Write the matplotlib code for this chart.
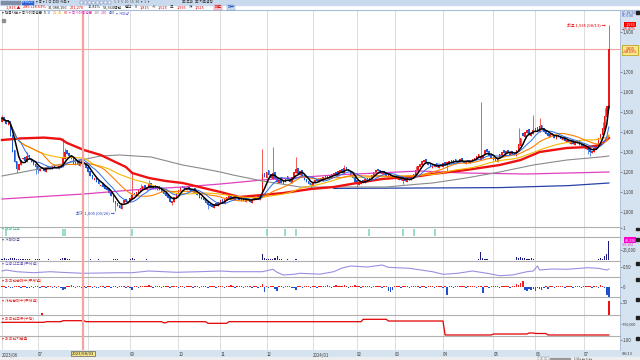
import matplotlib
matplotlib.use('Agg')
import matplotlib.pyplot as plt
from matplotlib.patches import Rectangle
import numpy as np
import pandas as pd

plt.rcParams['font.family'] = ['Noto Sans CJK KR', 'DejaVu Sans']
plt.rcParams['axes.unicode_minus'] = False

W, H = 640, 360

###############################################  일봉 (시가/종가)
close = [1470, 1455, 1440, 1460, 1380, 1300, 1250, 1215, 1240, 1260,
         1270, 1255, 1280, 1265, 1250, 1235, 1225, 1210, 1215, 1220,
         1205, 1225, 1220, 1215, 1230, 1225, 1220, 1230, 1225, 1270,
         1300, 1290, 1280, 1265, 1240, 1250, 1235, 1255, 1245, 1240,
         1220, 1200, 1180, 1165, 1170, 1150, 1140, 1135, 1125, 1115,
         1110, 1095, 1080, 1050, 1040, 1030, 1020, 1045, 1060, 1050,
         1055, 1070, 1085, 1090, 1100, 1110, 1120, 1130, 1115, 1125,
         1140, 1120, 1130, 1115, 1125, 1110, 1100, 1090, 1080, 1070,
         1050, 1055, 1075, 1095, 1110, 1125, 1120, 1115, 1120, 1110,
         1105, 1115, 1095, 1085, 1070, 1065, 1060, 1045, 1035, 1030,
         1025, 1040, 1035, 1050, 1060, 1045, 1065, 1075, 1080, 1070,
         1065, 1075, 1070, 1060, 1065, 1055, 1070, 1060, 1050, 1065,
         1070, 1075, 1065, 1080, 1190, 1175, 1200, 1185, 1170, 1195,
         1165, 1150, 1160, 1145, 1155, 1170, 1165, 1150, 1175, 1200,
         1215, 1190, 1205, 1180, 1160, 1150, 1140, 1135, 1150, 1160,
         1155, 1165, 1160, 1175, 1170, 1180, 1175, 1190, 1195, 1185,
         1205, 1210, 1200, 1220, 1215, 1205, 1180, 1170, 1150, 1140,
         1145, 1155, 1150, 1165, 1160, 1170, 1185, 1200, 1210, 1205,
         1195, 1200, 1190, 1180, 1185, 1175, 1170, 1180, 1165, 1175,
         1160, 1165, 1155, 1170, 1160, 1175, 1190, 1210, 1230, 1240,
         1255, 1260, 1245, 1235, 1225, 1230, 1240, 1225, 1235, 1230,
         1245, 1240, 1250, 1255, 1245, 1260, 1250, 1255, 1265, 1250,
         1245, 1255, 1250, 1260, 1265, 1270, 1280, 1290, 1275, 1285,
         1310, 1300, 1280, 1270, 1260, 1255, 1270, 1290, 1300, 1295,
         1305, 1295, 1300, 1290, 1285, 1310, 1340, 1370, 1380, 1400,
         1410, 1385, 1395, 1410, 1420, 1405, 1430, 1415, 1400, 1390,
         1380, 1390, 1385, 1370, 1380, 1375, 1365, 1370, 1355, 1360,
         1345, 1355, 1340, 1350, 1345, 1335, 1330, 1320, 1325, 1310,
         1300, 1305, 1320, 1330, 1370, 1390, 1420, 1480, 1530, 1815]
open_ = [1450, 1475, 1460, 1435, 1455, 1385, 1310, 1255, 1210, 1235,
         1265, 1275, 1250, 1285, 1265, 1255, 1240, 1230, 1205, 1225,
         1220, 1200, 1230, 1220, 1215, 1235, 1225, 1215, 1235, 1225,
         1265, 1310, 1295, 1285, 1270, 1235, 1255, 1230, 1260, 1250,
         1245, 1225, 1205, 1185, 1160, 1175, 1155, 1130, 1140, 1130,
         1120, 1115, 1100, 1085, 1055, 1045, 1035, 1015, 1045, 1065,
         1045, 1050, 1065, 1095, 1085, 1095, 1105, 1115, 1135, 1110,
         1120, 1145, 1115, 1135, 1110, 1130, 1115, 1105, 1095, 1085,
         1075, 1045, 1050, 1070, 1090, 1105, 1130, 1125, 1110, 1125,
         1115, 1100, 1120, 1100, 1090, 1075, 1070, 1065, 1050, 1040,
         1035, 1020, 1045, 1030, 1045, 1065, 1040, 1060, 1070, 1085,
         1075, 1060, 1080, 1075, 1055, 1070, 1050, 1075, 1065, 1045,
         1060, 1065, 1080, 1060, 1075, 1195, 1170, 1210, 1190, 1165,
         1200, 1170, 1145, 1165, 1140, 1150, 1180, 1170, 1145, 1170,
         1195, 1220, 1185, 1210, 1185, 1165, 1155, 1145, 1130, 1145,
         1165, 1150, 1170, 1155, 1180, 1165, 1185, 1170, 1185, 1200,
         1180, 1200, 1215, 1195, 1225, 1215, 1205, 1185, 1175, 1160,
         1135, 1140, 1160, 1145, 1170, 1155, 1165, 1180, 1195, 1215,
         1210, 1190, 1205, 1195, 1175, 1190, 1180, 1165, 1185, 1160,
         1180, 1155, 1170, 1150, 1175, 1160, 1170, 1185, 1205, 1225,
         1235, 1250, 1265, 1250, 1240, 1220, 1225, 1245, 1220, 1240,
         1225, 1250, 1235, 1245, 1260, 1240, 1265, 1245, 1250, 1270,
         1255, 1240, 1260, 1245, 1255, 1260, 1265, 1275, 1260, 1270,
         1285, 1315, 1305, 1285, 1275, 1265, 1250, 1270, 1285, 1310,
         1290, 1310, 1285, 1305, 1295, 1280, 1305, 1330, 1395, 1375,
         1395, 1415, 1380, 1390, 1405, 1425, 1400, 1435, 1420, 1405,
         1395, 1375, 1395, 1385, 1365, 1385, 1380, 1360, 1375, 1350,
         1360, 1340, 1360, 1335, 1355, 1345, 1340, 1335, 1315, 1330,
         1315, 1295, 1300, 1315, 1325, 1365, 1385, 1410, 1475, 1525]
# 꼬리 (고가/저가가 몸통 밖으로 나온 봉만)
hi_ext = {0: 1485, 4: 1420, 12: 1300, 29: 1370, 30: 1320, 62: 1200, 66: 1140,
          70: 1160, 124: 1315, 129: 1325, 140: 1275, 163: 1235, 197: 1230,
          228: 1550, 246: 1420, 253: 1485, 256: 1470, 286: 1450, 287: 1520, 289: 1935}
lo_ext = {7: 1195, 16: 1190, 17: 1195, 54: 1005, 81: 1035, 98: 1015, 147: 1115,
          169: 1120, 191: 1140, 212: 1200, 279: 1290, 280: 1280, 289: 1520}

###############################################  장기 이평
red_idx = [0, 9, 20, 28, 31, 39, 47, 52, 59, 62, 70, 78, 86, 94, 104, 113, 124, 134,
           147, 158, 169, 181, 199, 205, 221, 237, 247, 256, 269, 279, 285, 289]
red_val = [1360, 1368, 1372, 1365, 1345, 1310, 1285, 1260, 1225, 1195, 1170, 1155, 1145,
           1125, 1100, 1075, 1085, 1095, 1115, 1125, 1145, 1165, 1180, 1190, 1210, 1235,
           1260, 1300, 1320, 1325, 1335, 1370]
gray_idx = [0, 15, 31, 47, 56, 71, 86, 94, 104, 110, 124, 136, 142, 166, 183, 199, 205,
            221, 237, 253, 269, 285, 289]
gray_val = [1180, 1210, 1245, 1280, 1285, 1275, 1235, 1220, 1200, 1185, 1155, 1135, 1125,
            1125, 1125, 1140, 1145, 1170, 1200, 1235, 1260, 1275, 1280]
mag_idx = [0, 39, 62, 86, 104, 124, 158, 199, 220, 250, 289]
mag_val = [1065, 1090, 1110, 1125, 1140, 1160, 1185, 1205, 1195, 1190, 1200]
navy_idx = [158, 199, 237, 270, 289]
navy_val = [1118, 1120, 1122, 1132, 1145]

month_idx = [0, 17, 41, 61, 84, 104, 126, 148, 169, 187, 210, 234, 254, 277]
month_lbl = ['2023/06', '07', '08', '09', '10', '11', '12', '2024/01',
             '02', '03', '04', '05', '06', '07']
cross_idx = 38.6
cross_lbl = '2023/08/03'
last_price = 1815
price_ticks = [1000, 1100, 1200, 1300, 1400, 1500, 1600, 1700, 1900]

###############################################  보조지표
signal_idx = [2, 29, 30, 62, 126, 135, 140, 175, 191, 196, 206]
volume = [3, 4, 3, 2, 5, 6, 4, 3, 2, 2, 2, 2, 2, 2, 1, 1, 2, 2, 2, 1,
          1, 1, 2, 1, 1, 1, 1, 1, 2, 5, 4, 3, 2, 1, 1, 1, 1, 1, 1, 1,
          1, 1, 2, 1, 1, 1, 2, 1, 1, 1, 1, 1, 1, 2, 2, 2, 1, 1, 1, 1,
          1, 2, 4, 2, 1, 1, 1, 1, 1, 2, 1, 1, 1, 1, 1, 1, 1, 1, 1, 1,
          1, 1, 1, 1, 1, 1, 1, 1, 1, 1, 1, 1, 1, 1, 1, 1, 1, 1, 1, 1,
          1, 1, 1, 1, 1, 1, 1, 1, 1, 1, 1, 1, 1, 1, 1, 1, 1, 1, 1, 1,
          1, 1, 1, 1, 15, 6, 3, 2, 2, 3, 4, 10, 2, 2, 1, 1, 2, 1, 1, 1,
          2, 1, 1, 1, 1, 1, 1, 1, 1, 1, 1, 1, 1, 1, 1, 1, 1, 1, 1, 1,
          1, 1, 1, 1, 1, 1, 1, 1, 1, 1, 1, 1, 1, 1, 1, 1, 1, 1, 1, 1,
          1, 1, 1, 1, 1, 1, 1, 1, 1, 1, 1, 1, 1, 1, 1, 1, 1, 1, 1, 1,
          1, 1, 1, 1, 1, 1, 1, 1, 1, 1, 1, 1, 1, 1, 1, 1, 1, 1, 1, 1,
          1, 1, 1, 1, 1, 1, 1, 2, 20, 4, 2, 2, 1, 1, 1, 1, 1, 1, 1, 1,
          1, 1, 1, 1, 1, 8, 5, 7, 4, 6, 3, 2, 4, 2, 1, 1, 1, 1, 1, 1,
          1, 1, 1, 1, 1, 1, 1, 1, 1, 1, 1, 1, 1, 1, 1, 1, 1, 1, 1, 1,
          1, 1, 1, 1, 2, 4, 3, 10, 15, 48]
credit_idx = [0, 2, 7, 15, 23, 28, 39, 55, 62, 70, 83, 94, 104, 110, 124, 129, 131, 134,
              139, 142, 150, 151, 158, 162, 166, 174, 181, 184, 194, 205, 210, 217, 224,
              231, 237, 243, 250, 253, 255, 256, 262, 269, 279, 284, 288, 289]
credit_val = [0.30, 0.35, 0.265, 0.215, 0.265, 0.235, 0.185, 0.215, 0.215, 0.30, 0.235,
              0.265, 0.30, 0.265, 0.265, 0.385, 0.235, 0.10, 0.135, 0.185, 0.15, 0.135,
              0.265, 0.45, 0.55, 0.50, 0.60, 0.485, 0.435, 0.265, 0.135, 0.185, 0.30,
              0.185, 0.065, 0.10, 0.265, 0.30, 0.55, 0.35, 0.40, 0.385, 0.465, 0.435,
              0.35, 0.40]
frgn_net = [1, 1, -1, 1, -1, -1, 1, 1, 1, -1, 1, 1, -1, -1, 1, -1, 1, 1, -1, 1,
            1, -1, 1, 1, -1, 1, -1, 1, -1, -3, -2, 1, 1, 2, 1, -1, 1, 1, -1, 1,
            -1, 1, 1, -1, 1, -1, -1, 1, 1, -1, 1, 1, -1, 1, 1, -1, 1, 1, 1, -1,
            1, -1, -3, 1, 1, -1, 1, 1, 1, 1, 2, 1, -1, 1, 1, 1, -1, 1, 1, 1,
            -1, 1, 1, 1, -1, 1, 1, -1, 1, 1, 1, -1, 1, 1, -1, 1, 1, 1, -1, 1,
            1, 1, -1, 1, 1, 1, -1, 1, 1, 2, 1, -1, 1, 1, 1, -1, 1, 1, 1, -1,
            1, 1, -1, 1, 3, -5, 1, -1, 1, 1, -2, -4, 1, 1, -1, 1, 1, 1, -1, -1,
            -3, 1, 1, -1, 1, 1, 1, -1, 1, 1, -1, 1, 1, 1, 1, 2, 1, -1, 1, 2,
            1, 1, 1, 2, 1, -1, 1, 1, 2, 1, 1, -1, 1, 1, 1, 1, -1, 1, 1, 1,
            1, -1, 1, 1, -4, -5, -3, 1, 1, 1, -1, 1, 1, 1, -1, 1, 1, 1, 1, -1,
            1, 1, -1, 1, 1, 1, -1, 1, 1, 1, -1, 1, -8, 1, 1, -1, 1, 1, 1, 1,
            1, -1, 1, 1, 1, 1, -1, 1, 1, -6, 1, 1, -1, 1, 1, 1, 1, -1, 1, 1,
            1, 1, -1, 1, 1, 3, 2, 4, 6, -3, -4, -2, -3, -2, -4, -1, -2, -3, -1, 1,
            -2, 1, 1, -1, 1, 1, 1, 1, -1, 1, 1, 1, -1, 1, 1, 1, -1, 1, 1, 1,
            1, -1, 1, 1, -1, 2, 1, -1, -8, -10]
indiv_idx = [19, 289]
indiv_val = [8, 56]
hold_runs = [(21, -630000), (8, -570000), (11, -470000), (37, -570000), (2, -680000),
             (19, -570000), (10, -730000), (64, -570000), (12, -330000), (27, -500000),
             (23, -1900000), (17, -1800000), (3, -1700000), (6, -1750000), (30, -1900000)]

###############################################
fig = plt.figure(figsize=(6.4, 3.6), dpi=100)
fig.patch.set_facecolor('white')
rend = fig.canvas.get_renderer()


def box(x0, y0, x1, y1):
    return [x0 / W, 1 - y1 / H, (x1 - x0) / W, (y1 - y0) / H]


def ftext(x, y, s, **kw):
    kw.setdefault('fontsize', 3.2)
    kw.setdefault('va', 'center')
    return fig.text(x / W, 1 - y / H, s, **kw)


def frow(x, y, pieces, fs, gap=1.6):
    # 글자 조각을 겹치지 않게 이어서 배치
    for s, cc in pieces:
        t = ftext(x, y, s, color=cc, fontsize=fs)
        x = t.get_window_extent(rend).x1 + gap
    return x


def frect(x0, y0, x1, y1, **kw):
    kw.setdefault('zorder', -1)
    fig.patches.append(Rectangle((x0 / W, 1 - y1 / H), (x1 - x0) / W, (y1 - y0) / H,
                                 transform=fig.transFigure, **kw))


def panel(y0, y1, label=None, lcolor='#333333'):
    ax = fig.add_axes(box(0, y0, 620, y1))
    ax.set_xlim(-0.95, 294.3)
    ax.set_xticks(month_idx)
    ax.grid(axis='x', color='#dcdcdc', lw=0.7)
    ax.set_axisbelow(True)
    ax.tick_params(axis='x', length=0, labelbottom=False)
    ax.yaxis.tick_right()
    ax.tick_params(axis='y', labelsize=3.2, length=1.2, width=0.4, pad=0.8, colors='#404040')
    ax.spines['left'].set_visible(False)
    ax.spines['bottom'].set_visible(False)
    ax.spines['top'].set_color('#b0b0b0')
    ax.spines['top'].set_linewidth(0.8)
    ax.spines['right'].set_color('#a9bcd6')
    ax.spines['right'].set_linewidth(0.6)
    ax.axvline(cross_idx, color='#f4a3a3', lw=1.6, zorder=6)
    if label:
        ftext(1.5, y0 + 2.8, label, color=lcolor, fontsize=2.9, zorder=7)
    frect(636, y0 + 1, 639, y0 + 3.5, color='#202020', zorder=2)
    return ax


# 배경 띠
frect(0, 0, 640, 4.6, color='#c9daef')
frect(620, 9.5, 640, 357, color='#d5e2f0')
frect(0, 350, 640, 357, color='#d5e2f0')
frect(0, 357, 640, 360, color='#eeeeee')
fig.lines.append(plt.Line2D([0, 1], [1 - 9.6 / H] * 2, transform=fig.transFigure,
                            color='#a9bcd6', lw=0.6))

# 툴바
for xx in [1, 5, 9, 13, 17]:
    frect(xx, 0.8, xx + 3, 3.8, color='#7d8da5', zorder=2)
frect(22, 0.6, 33, 4.0, color='#2b62d9', zorder=2)
ftext(27.5, 2.3, '078020', color='white', ha='center', fontsize=2.6)
frow(36, 2.3, [('▾ 중 ▾ 1 ⊙ 최대 차트 ▾', '#333333')], 2.6)
for xx in [80, 84, 88, 92, 96, 100, 104, 108]:
    frect(xx, 0.8, xx + 3, 3.8, facecolor='#eef3fa', edgecolor='#5a78b0', lw=0.3, zorder=2)
frow(114, 2.3, [('1  3  5  10  15  30  ▾  1  ▾', '#555555')], 2.6)
frow(182, 2.3, [('▣ 조회', '#333333'), ('▣ 지표설정', '#333333')], 2.6)

top_row = [('1,815 ▲', '#e00000'), ('285 +18.63%', '#e00000'),
           ('32,088,156', '#222222'), ('271,270', '#e00000'),
           ('16.81%', '#222222'), ('53,364백만', '#222222'),
           ('합산', '#222222'), ('0', '#222222'),
           ('1,815', '#e00000'), ('시', '#222222'), ('1,525', '#e00000'),
           ('고', '#222222'), ('1,935', '#e00000'), ('저', '#222222'),
           ('1,525', '#e00000')]
frow(6, 7.2, top_row, 2.8, gap=2.6)
ftext(218, 7.2, '매도', color='#cc0000', ha='center', fontsize=2.8,
      bbox=dict(boxstyle='square,pad=0.15', fc='#f7c6cf', ec='#d08090', lw=0.3))
ftext(231, 7.2, '매수', color='#0040b0', ha='center', fontsize=2.8,
      bbox=dict(boxstyle='square,pad=0.15', fc='#cfe0f5', ec='#8099c0', lw=0.3))

###############################################  가격 차트
ax = panel(10, 227)
ax.set_ylim(925, 2010)
ax.set_yticks(price_ticks)
ax.set_yticklabels(['{:,}'.format(v) for v in price_ticks])
ax.spines['top'].set_color('#a9bcd6')

n = len(close)
idx = np.arange(n)
o = np.array(open_, dtype=float)
c = np.array(close, dtype=float)
hi = np.maximum(o, c)
lo = np.minimum(o, c)
for k, v in hi_ext.items():
    hi[k] = v
for k, v in lo_ext.items():
    lo[k] = v
col = np.where(c >= o, '#f01818', '#1f5ad8')
ax.vlines(idx, lo, hi, colors=col, lw=0.5, zorder=2)
ax.bar(idx, np.maximum(np.abs(c - o), 4), bottom=np.minimum(o, c), width=0.75,
       color=col, lw=0, zorder=2)

s = pd.Series(c)
ax.plot(navy_idx, navy_val, color='#2642a8', lw=0.9, zorder=3)
ax.plot(mag_idx, mag_val, color='#e040c0', lw=0.9, zorder=3)
ax.plot(gray_idx, gray_val, color='#8a8a8a', lw=0.8, zorder=3)
ax.plot(red_idx, red_val, color='#ee1111', lw=1.7, zorder=3)
ax.plot(idx, s.rolling(40, min_periods=1).mean(), color='#f5b800', lw=0.8, zorder=4)
ax.plot(idx, s.rolling(20, min_periods=1).mean(), color='#ff8000', lw=0.8, zorder=4)
ax.plot(idx, s.rolling(10, min_periods=1).mean(), color='#2d6be8', lw=0.7, zorder=4)
ax.plot(idx, s.rolling(5, min_periods=1).mean(), color='black', lw=1.1, zorder=5)
ax.axhline(last_price, color='#f4a3a3', lw=0.8, zorder=1)

imax = int(np.argmax(hi))
imin = int(np.argmin(lo))
ax.text(imax - 1.5, hi[imax], '최고 {:,} (08/13) →'.format(int(hi[imax])), ha='right',
        va='center', fontsize=3.0, color='#e00000')
ax.text(imin - 0.5, lo[imin] - 12, '최저 {:,} (09/26) →'.format(int(lo[imin])), ha='right',
        va='center', fontsize=3.0, color='#2040c0')

legend_row = [('▾ 캔들차트', '#404040'), ('▾ 중가이동평균', '#404040'),
              ('5', '#000000'), ('10', '#2d6be8'), ('20', '#ff8000'),
              ('40', '#f5b800'), ('60', '#ee1111'),
              ('▾ 중가이동평균', '#e040c0'), ('120', '#8a8a8a'),
              ('240', '#e040c0'), ('480', '#2642a8'), ('▾ 거래량', '#6060d0')]
frow(1.5, 13.5, legend_row, 2.7, gap=1.4)
frect(1.5, 18.5, 5, 21.5, color='#909090', zorder=2)

# 오른쪽 가격표
ftext(622, 12.8, 'LC:18.56', color='#3050c0', fontsize=2.6)
ftext(622, 16.0, 'FC:0.00', color='#3050c0', fontsize=2.6)
ftext(630, 24.6, '{:,}'.format(int(hi[imax])), color='white', ha='center', fontsize=2.8,
      bbox=dict(boxstyle='square,pad=0.2', fc='#ff0000', ec='none'))
ftext(622, 28.6, '+26.47%', color='#e00000', fontsize=2.5)
ftext(630, 50, '{:,}\n+18.63%'.format(last_price), color='#d00000', ha='center',
      fontsize=2.6, linespacing=1.0,
      bbox=dict(boxstyle='square,pad=0.25', fc='#f8e68a', ec='#b89a00', lw=0.5))

###############################################  보조지표 패널
ax1 = panel(227, 237, '▾ 매매신호', '#40b890')
ax1.set_ylim(0, 1.1)
ax1.set_yticks([1])
ax1.vlines(signal_idx, 0.12, 0.9, color='#7fd4b0', lw=1.1)

ax2 = panel(237, 261, '▾ 거래대금', '#505090')
ax2.set_ylim(-2.5, 57.5)
ax2.set_yticks([25])
ax2.set_yticklabels(['25,000'])
ax2.bar(idx, volume, width=0.55, color='#1a1a80', lw=0)
ftext(630, 240, '48,336', color='white', ha='center', fontsize=2.6,
      bbox=dict(boxstyle='square,pad=0.15', fc='#ff00cc', ec='none'))
ftext(622, 244.2, '335,304', color='#e040c0', fontsize=2.4)

ax3 = panel(261, 277, '▾ 신용잔고율(주체별)', '#7060c0')
ax3.set_ylim(0, 0.8)
ax3.set_yticks([0.5])
ax3.set_yticklabels(['0.50'])
ax3.plot(credit_idx, credit_val, color='#9b8fe0', lw=0.8)

ax4 = panel(277, 297, '▾ 외국인순매수(주체별)', '#e03030')
ax4.set_ylim(-10, 10)
ax4.set_yticks([0])
fn = np.array(frgn_net)
ax4.bar(idx, fn, width=0.7, color=np.where(fn > 0, '#ee2020', '#1f4fd0'), lw=0)

ax5 = panel(297, 315, '▾ 개인순매수(주체별)', '#e03030')
ax5.set_ylim(0, 72)
ax5.set_yticks([50])
ax5.bar(indiv_idx, indiv_val, width=0.8, color='#ee1111', lw=0)

ax6 = panel(315, 336, '▾ 외국인보유(수량)', '#e03030')
ax6.set_ylim(-2000000, 100000)
ax6.set_yticks([-750000])
ax6.set_yticklabels(['-750,000'])
ax6.tick_params(axis='y', labelsize=2.7, pad=0.4, length=0.8)
hold = []
for cnt, v in hold_runs:
    hold += [v] * cnt
ax6.plot(idx, hold, color='#e00000', lw=0.9)

ax7 = panel(336, 350, '▾ 외국인지분율', '#e03030')
ax7.set_ylim(0, 1.4)
ax7.set_yticks([1.0])
ax7.set_yticklabels(['1.00'])
ax7.tick_params(axis='x', labelbottom=True, labelsize=3.1, pad=1.8, colors='#404040')
ax7.set_xticklabels(month_lbl)
for k, t in zip(month_idx, ax7.get_xticklabels()):
    t.set_ha('left')
    # 십자선 날짜표시에 가려지는 월 라벨
    if abs(k - cross_idx) < 6:
        t.set_visible(False)
ftext(622, 353.3, '08/13', color='#404040', fontsize=3.0)
ftext(83, 353.5, cross_lbl, color='#202020', ha='center', fontsize=3.0, zorder=8,
      bbox=dict(boxstyle='square,pad=0.15', fc='#f8e68a', ec='#404040', lw=0.4))

# 스크롤바
for xx in [538, 542, 546]:
    frect(xx, 357.4, xx + 3, 359.8, facecolor='white', edgecolor='#777777', lw=0.3, zorder=2)
frect(550, 358.2, 570, 359.2, color='#999999', zorder=2)
ftext(574, 358.7, '1/4 ▸ ▸▸ ▾ ◂ ▸', color='#444444', fontsize=2.3)

fig.savefig('out.png', dpi=100)
plt.close()
